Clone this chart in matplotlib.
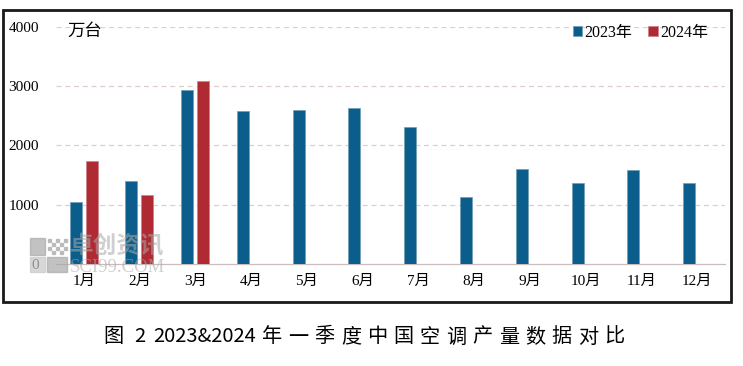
import numpy as np
import matplotlib.pyplot as plt
from matplotlib.patches import Rectangle

months = ['1月', '2月', '3月', '4月', '5月', '6月', '7月', '8月', '9月', '10月', '11月', '12月']
prod_2023 = [1040, 1400, 2935, 2580, 2600, 2630, 2310, 1130, 1600, 1370, 1590, 1370]
prod_2024 = [1740, 1165, 3090]
yticks = [0, 1000, 2000, 3000, 4000]

serif = ['Liberation Serif', 'Noto Sans CJK SC']
sans = ['Noto Sans CJK SC', 'DejaVu Sans']
blue = '#0B5E8C'
red = '#B02A33'

W, H = 743, 366
fig = plt.figure(figsize=(W / 100, H / 100), dpi=100)
ax = fig.add_axes([0.075, 0.279, 0.901, 0.647])

x = np.arange(len(months))
w = 0.215
ax.bar(x - 0.145, prod_2023, width=w, color=blue, edgecolor='#6F9CB8', linewidth=0.5, label='2023年', zorder=3)
ax.bar(x[:len(prod_2024)] + 0.145, prod_2024, width=w, color=red, edgecolor='#C98088', linewidth=0.5, label='2024年', zorder=3)

ax.set_xlim(-0.5, len(months) - 0.5)
ax.set_ylim(0, 4000)
ax.set_yticks(yticks)
ax.set_xticks(x)
ax.set_xticklabels(months, fontfamily=serif, fontsize=11)
ax.set_yticklabels([str(v) for v in yticks], fontfamily=serif, fontsize=11)
ax.tick_params(axis='both', length=0)
ax.tick_params(axis='y', pad=12)
ax.tick_params(axis='x', pad=8)

for v in yticks[1:]:
    ax.axhline(v, color='#DCCFCB', linestyle=(0, (4, 3)), linewidth=0.9, zorder=1)
for s in ['top', 'right', 'left']:
    ax.spines[s].set_visible(False)
ax.spines['bottom'].set_color('#C8BDBA')
ax.spines['bottom'].set_linewidth(0.9)

ax.text(0.018, 0.985, '万台', transform=ax.transAxes, fontfamily=sans, fontsize=12.5,
        va='center', ha='left')

leg = ax.legend(loc='center right', bbox_to_anchor=(0.975, 0.975), frameon=False, ncol=2,
                borderaxespad=0, borderpad=0,
                handlelength=0.6, handleheight=0.6, handletextpad=0.15, columnspacing=1.0,
                prop={'family': serif, 'size': 11.5})

# watermark (logo + text)
wm = '#A9A9A9'
for (x0, y0, x1, y1, c) in [(30, 238, 45, 255, wm), (30, 257, 45, 272, '#C8C8C8'),
                            (47, 257, 67, 272, wm)]:
    fig.patches.append(Rectangle((x0 / W, 1 - y1 / H), (x1 - x0) / W, (y1 - y0) / H,
                                 transform=fig.transFigure, color=c, alpha=0.7, zorder=5))
for i, j in [(0, 0), (2, 0), (1, 1), (3, 1), (0, 2), (2, 2), (4, 2), (1, 3), (3, 3), (4, 0)]:
    fig.patches.append(Rectangle(((48 + i * 4) / W, 1 - (242 + j * 4) / H), 3 / W, 3 / H,
                                 transform=fig.transFigure, color=wm, alpha=0.7, zorder=5))
fig.text(70 / W, 1 - 246 / H, '卓创资讯', fontfamily=sans, fontsize=17, color=wm, alpha=0.55,
         va='center', ha='left', fontweight='bold', zorder=6)
fig.text(70 / W, 1 - 268 / H, 'SCI99.COM', fontfamily=serif, fontsize=13.5, color=wm, alpha=0.55,
         va='center', ha='left', zorder=6)

# outer frame
fig.patches.append(Rectangle((3 / W, 64 / H), 728 / W, 292 / H, transform=fig.transFigure,
                             fill=False, edgecolor='#1A1A1A', linewidth=2))

# caption with wide character spacing
cy = 1 - 337 / H
cap = dict(fontfamily=sans, fontsize=14.5, ha='left', va='center')
fig.text(103 / W, cy, '图', **cap)
fig.text(134 / W, cy, '2', **cap)
fig.text(153 / W, cy, '2023&2024', **cap)
for k, ch in enumerate('年一季度中国空调产量数据对比'):
    fig.text((262 + k * 26.3) / W, cy, ch, **cap)

fig.savefig('out.png', dpi=100)
